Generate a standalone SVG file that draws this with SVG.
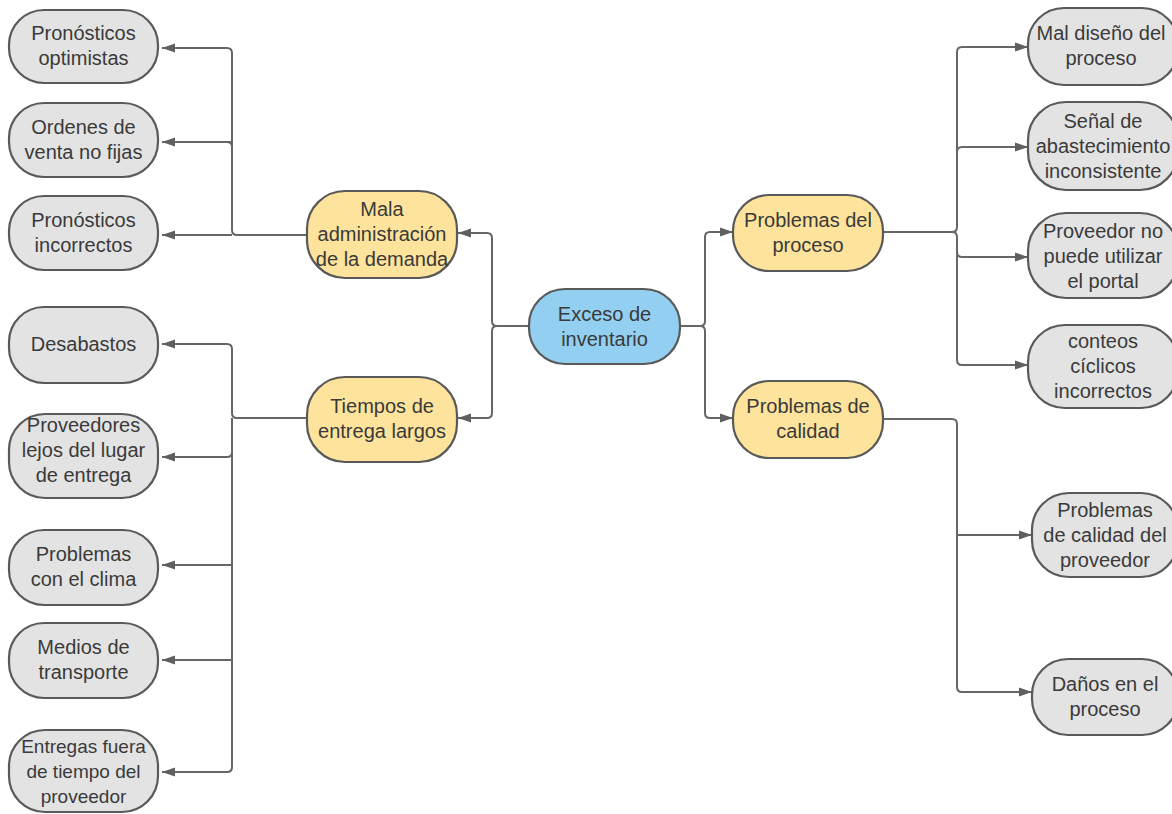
<svg xmlns="http://www.w3.org/2000/svg" width="1172" height="814" viewBox="0 0 1172 814">
<defs>
<marker id="arr" markerWidth="14" markerHeight="10" refX="13" refY="5" orient="auto" markerUnits="userSpaceOnUse">
<path d="M0,0.5 L13,5 L0,9.5 z" fill="#5f5f5f"/>
</marker>
<style>
.n rect{stroke:#595959;stroke-width:2.2}
.g rect{fill:#e3e3e3}
.y rect{fill:#fde39c}
.b rect{fill:#93cff0}
text{font-family:"Liberation Sans",Arial,sans-serif;font-size:20px;fill:#3a3a3a;text-anchor:middle}
.c path{fill:none;stroke:#666;stroke-width:2;marker-end:url(#arr)}
.c path.t{marker-end:none}
</style>
</defs>
<rect width="1172" height="814" fill="#fff"/>
<g class="c" id="connectors">
<!-- Exceso to level 1 -->
<path d="M529,326 H497 Q492,326 492,321 V238 Q492,233 487,233 H458"/>
<path d="M529,326 H497 Q492,326 492,331 V413 Q492,418 487,418 H458"/>
<path d="M680,326 H700 Q705,326 705,321 V237 Q705,232 710,232 H733"/>
<path d="M680,326 H700 Q705,326 705,331 V413 Q705,418 710,418 H733"/>
<!-- Mala -->
<path d="M307,235 H237 Q232,235 232,230 V53 Q232,48 227,48 H162"/>
<path class="t" d="M232,147 Q232,142 227,142"/>
<path d="M232,142 H162"/>
<path d="M232,235 H162"/>
<!-- Tiempos -->
<path d="M307,418 H237 Q232,418 232,413 V349 Q232,344 227,344 H162"/>
<path d="M232,418 Q232,418 232,423 V767 Q232,772 227,772 H162"/>
<path class="t" d="M232,452 Q232,457 227,457"/>
<path d="M227,457 H162"/>
<path d="M232,565 H162"/>
<path d="M232,660 H162"/>
<!-- Problemas del proceso -->
<path d="M883,232 H952 Q957,232 957,227 V52 Q957,47 962,47 H1028"/>
<path d="M883,232 H952 Q957,232 957,237 V360 Q957,365 962,365 H1028"/>
<path class="t" d="M957,152 Q957,147 962,147"/>
<path d="M962,147 H1028"/>
<path class="t" d="M957,252 Q957,257 962,257"/>
<path d="M962,257 H1028"/>
<!-- Problemas de calidad -->
<path d="M883,419 H952 Q957,419 957,424 V687 Q957,692 962,692 H1032"/>
<path d="M957,535 H1032"/>
</g>
<g id="n-exceso" class="n b"><rect x="529" y="289" width="151" height="75" rx="36"/><text x="604.5" y="321">Exceso de</text><text x="604.5" y="346">inventario</text></g>
<g id="n-mala" class="n y"><rect x="307" y="191" width="150" height="87" rx="38"/><text x="382" y="216">Mala</text><text x="382" y="241">administración</text><text x="382" y="266">de la demanda</text></g>
<g id="n-tiempos" class="n y"><rect x="307" y="377" width="150" height="85" rx="38"/><text x="382" y="413">Tiempos de</text><text x="382" y="438">entrega largos</text></g>
<g id="n-proceso" class="n y"><rect x="733" y="195" width="150" height="76" rx="36"/><text x="808" y="227">Problemas del</text><text x="808" y="252">proceso</text></g>
<g id="n-calidad" class="n y"><rect x="733" y="381" width="150" height="77" rx="36"/><text x="808" y="413">Problemas de</text><text x="808" y="438">calidad</text></g>
<g id="n-pron-opt" class="n g"><rect x="9" y="10" width="149" height="73" rx="35"/><text x="83.5" y="40">Pronósticos</text><text x="83.5" y="65">optimistas</text></g>
<g id="n-ordenes" class="n g"><rect x="9" y="103" width="149" height="74" rx="35"/><text x="83.5" y="134">Ordenes de</text><text x="83.5" y="159">venta no fijas</text></g>
<g id="n-pron-inc" class="n g"><rect x="9" y="196" width="149" height="74" rx="35"/><text x="83.5" y="227">Pronósticos</text><text x="83.5" y="252">incorrectos</text></g>
<g id="n-desabastos" class="n g"><rect x="9" y="307" width="149" height="76" rx="35"/><text x="83.5" y="351">Desabastos</text></g>
<g id="n-proveedores" class="n g"><rect x="9" y="414" width="149" height="84" rx="36"/><text x="83.5" y="432">Proveedores</text><text x="83.5" y="457">lejos del lugar</text><text x="83.5" y="482">de entrega</text></g>
<g id="n-clima" class="n g"><rect x="9" y="530" width="149" height="75" rx="35"/><text x="83.5" y="561">Problemas</text><text x="83.5" y="586">con el clima</text></g>
<g id="n-medios" class="n g"><rect x="9" y="623" width="149" height="75" rx="35"/><text x="83.5" y="654">Medios de</text><text x="83.5" y="679">transporte</text></g>
<g id="n-entregas" class="n g"><rect x="9" y="730" width="149" height="82" rx="36"/><text x="83.5" y="753" style="font-size:19px">Entregas fuera</text><text x="83.5" y="778" style="font-size:19px">de tiempo del</text><text x="83.5" y="803" style="font-size:19px">proveedor</text></g>
<g id="n-mal-diseno" class="n g"><rect x="1028" y="8" width="150" height="77" rx="36"/><text x="1101" y="40">Mal diseño del</text><text x="1101" y="65">proceso</text></g>
<g id="n-senal" class="n g"><rect x="1028" y="102" width="150" height="88" rx="38"/><text x="1103" y="128">Señal de</text><text x="1103" y="153">abastecimiento</text><text x="1103" y="178">inconsistente</text></g>
<g id="n-portal" class="n g"><rect x="1028" y="213" width="150" height="85" rx="38"/><text x="1103" y="238">Proveedor no</text><text x="1103" y="263">puede utilizar</text><text x="1103" y="288">el portal</text></g>
<g id="n-conteos" class="n g"><rect x="1028" y="325" width="150" height="83" rx="37"/><text x="1103" y="348">conteos</text><text x="1103" y="373">cíclicos</text><text x="1103" y="398">incorrectos</text></g>
<g id="n-calidad-prov" class="n g"><rect x="1032" y="493" width="146" height="84" rx="37"/><text x="1105" y="517">Problemas</text><text x="1105" y="542">de calidad del</text><text x="1105" y="567">proveedor</text></g>
<g id="n-danos" class="n g"><rect x="1032" y="659" width="146" height="76" rx="36"/><text x="1105" y="691">Daños en el</text><text x="1105" y="716">proceso</text></g>
</svg>
